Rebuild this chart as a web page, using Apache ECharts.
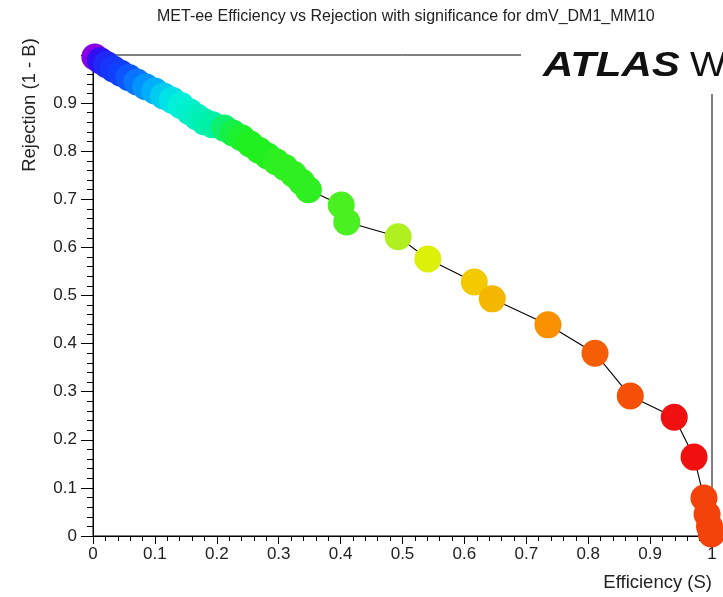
<!DOCTYPE html>
<html>
<head>
<meta charset="utf-8">
<script src="https://cdn.jsdelivr.net/npm/echarts@6/dist/echarts.min.js"></script>
<style>
html,body{margin:0;padding:0;background:#fff;}
#chart{width:723px;height:597px;}
</style>
</head>
<body>
<div id="chart"></div>
<script>
// Efficiency (S) of each working point
const efficiency = [
  0.003, 0.012, 0.022, 0.033, 0.045, 0.058, 0.071, 0.085, 0.100, 0.114,
  0.128, 0.142, 0.156, 0.168, 0.180, 0.193, 0.212, 0.226, 0.240, 0.254,
  0.268, 0.282, 0.296, 0.310, 0.324, 0.337, 0.348,
  0.401, 0.410, 0.493, 0.541, 0.616, 0.645, 0.735, 0.811, 0.868, 0.939,
  0.971, 0.987, 0.992, 0.996, 0.999
];
// Rejection (1 - B) of each working point
const rejection = [
  0.996, 0.988, 0.980, 0.971, 0.962, 0.953, 0.944, 0.934, 0.925, 0.915,
  0.906, 0.895, 0.882, 0.871, 0.861, 0.855, 0.848, 0.838, 0.828, 0.815,
  0.802, 0.790, 0.778, 0.766, 0.752, 0.736, 0.720,
  0.688, 0.653, 0.622, 0.576, 0.528, 0.493, 0.439, 0.380, 0.291, 0.247,
  0.164, 0.079, 0.045, 0.020, 0.004
];
// Relative significance (drives the colour palette)
const significance = [
  0.00, 0.10, 0.15, 0.18, 0.20, 0.22, 0.25, 0.28, 0.31, 0.35,
  0.38, 0.41, 0.43, 0.45, 0.47, 0.49, 0.54, 0.57, 0.59, 0.60,
  0.60, 0.60, 0.61, 0.61, 0.61, 0.61, 0.61,
  0.63, 0.63, 0.70, 0.77, 0.84, 0.86, 0.90, 0.94, 0.95, 1.00,
  1.00, 0.96, 0.96, 0.96, 0.96
];
const xTicks = ['0','0.1','0.2','0.3','0.4','0.5','0.6','0.7','0.8','0.9','1'];
const yTicks = ['0','0.1','0.2','0.3','0.4','0.5','0.6','0.7','0.8','0.9',''];

const pts = efficiency.map((x, i) => [x, rejection[i], significance[i]]);
const FONT = '"Liberation Sans", Arial, Helvetica, sans-serif';

const chart = echarts.init(document.getElementById('chart'), null, {renderer: 'canvas'});
chart.setOption({
  animation: false,
  backgroundColor: '#ffffff',
  title: {
    text: 'MET-ee Efficiency vs Rejection with significance for dmV_DM1_MM10',
    left: 152, top: 4,
    textStyle: {fontFamily: FONT, fontSize: 16, fontWeight: 'normal', color: '#222'}
  },
  grid: {left: 93, right: 11, top: 55, bottom: 61, show: true,
         borderColor: '#000', borderWidth: 1, backgroundColor: 'transparent'},
  xAxis: {
    type: 'value', min: 0, max: 1, interval: 0.1,
    axisLine: {onZero: false, lineStyle: {color: '#000', width: 1}},
    axisTick: {length: 8, lineStyle: {color: '#000'}},
    minorTick: {show: true, splitNumber: 5, length: 5, lineStyle: {color: '#000'}},
    splitLine: {show: false},
    axisLabel: {margin: 10, fontFamily: FONT, fontSize: 17, color: '#222',
      formatter: (v) => xTicks[Math.round(v * 10)]}
  },
  yAxis: {
    type: 'value', min: 0, max: 1, interval: 0.1,
    axisLine: {onZero: false, lineStyle: {color: '#000', width: 1}},
    axisTick: {length: 12, lineStyle: {color: '#000'}},
    minorTick: {show: true, splitNumber: 5, length: 6, lineStyle: {color: '#000'}},
    splitLine: {show: false},
    axisLabel: {margin: 16, fontFamily: FONT, fontSize: 17, color: '#222',
      formatter: (v) => yTicks[Math.round(v * 10)]}
  },
  visualMap: {
    show: false, type: 'continuous', seriesIndex: 1, dimension: 2, min: 0, max: 1,
    inRange: {color: ['#8a00e6','#3010f0','#1040ff','#00a8ff','#00f0e0','#00f0a0',
                      '#20f020','#b0f020','#f0f000','#f89000','#f01010']}
  },
  series: [
    {type: 'line', data: pts, symbol: 'none', z: 1,
     lineStyle: {color: '#000', width: 1.1}},
    {type: 'scatter', data: pts, symbol: 'circle', symbolSize: 27, z: 2,
     itemStyle: {opacity: 1}}
  ],
  graphic: [
    {type: 'rect', z: 100, shape: {x: 521, y: 38, width: 202, height: 56},
     style: {fill: '#fff'}},
    {type: 'text', z: 101, x: 543, y: 66, scaleX: 1.2,
     style: {text: 'ATLAS', fontFamily: FONT, fontSize: 35, fontWeight: 'bold',
             fontStyle: 'italic', fill: '#111', textVerticalAlign: 'middle'}},
    {type: 'text', z: 101, x: 690, y: 66, scaleX: 1.1,
     style: {text: 'W', fontFamily: FONT, fontSize: 35, fill: '#111',
             textVerticalAlign: 'middle'}},
    {type: 'text', z: 101, x: 30, y: 105, rotation: Math.PI / 2,
     style: {text: 'Rejection (1 - B)', fontFamily: FONT, fontSize: 18.5, fill: '#222',
             textAlign: 'center', textVerticalAlign: 'middle'}},
    {type: 'text', z: 101, x: 712, y: 583,
     style: {text: 'Efficiency (S)', fontFamily: FONT, fontSize: 18.5, fill: '#222',
             textAlign: 'right', textVerticalAlign: 'middle'}}
  ]
});
</script>
</body>
</html>
